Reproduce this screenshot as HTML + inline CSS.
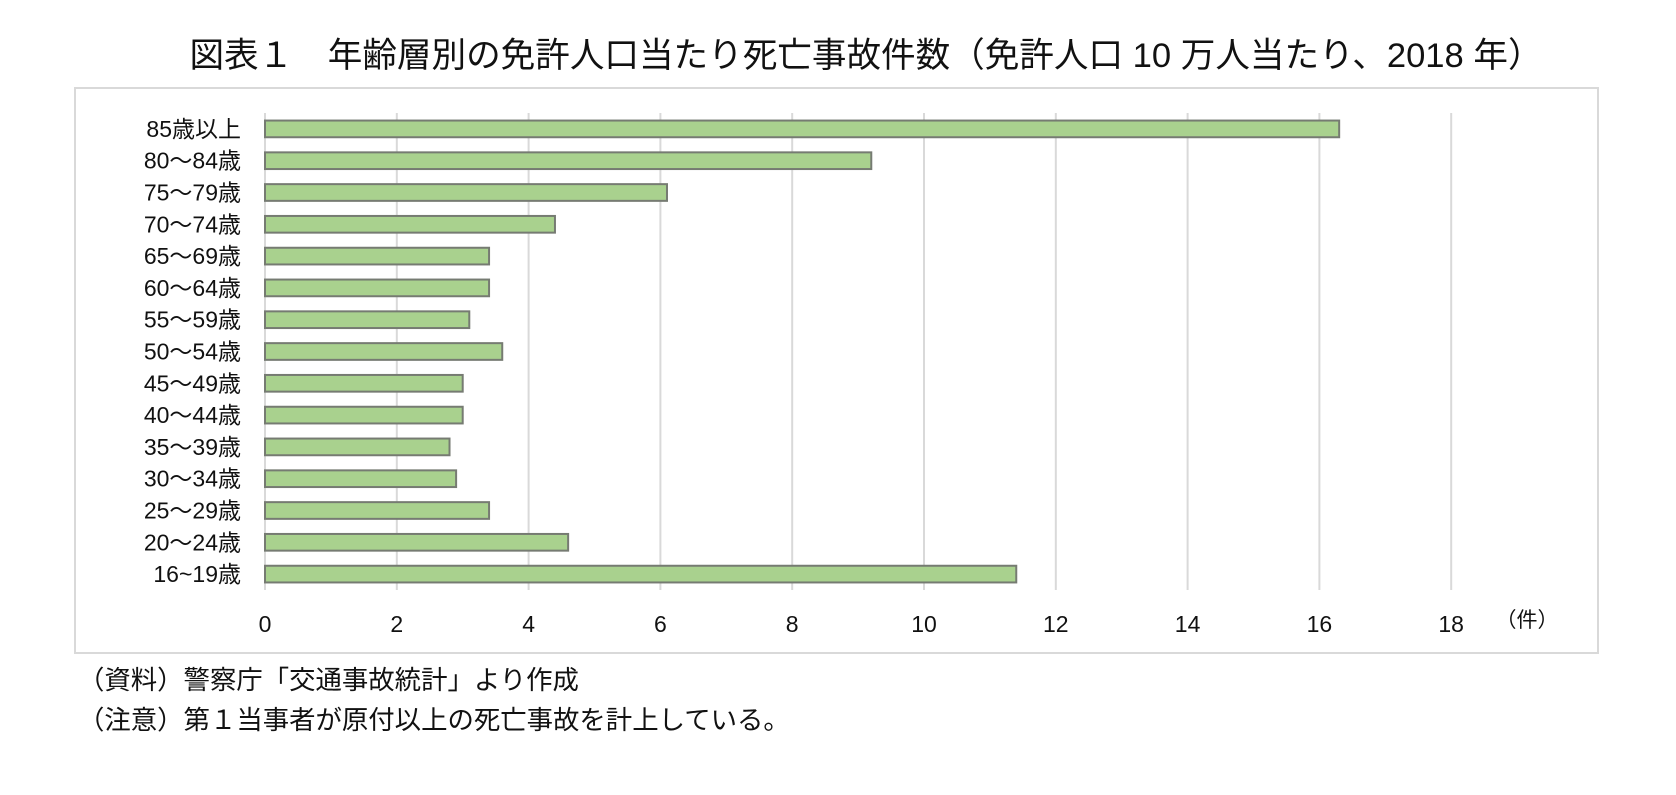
<!DOCTYPE html>
<html><head><meta charset="utf-8">
<style>
html,body{margin:0;padding:0;background:#fff;}
body{width:1676px;height:790px;overflow:hidden;font-family:"Liberation Sans","Noto Sans CJK JP",sans-serif;}
</style></head>
<body>
<svg id="chart" width="1676" height="790" xmlns="http://www.w3.org/2000/svg" style="font-family:'Liberation Sans','Noto Sans CJK JP',sans-serif">
<text x="866" y="67" text-anchor="middle" font-size="34.6" fill="#111">図表１　年齢層別の免許人口当たり死亡事故件数（免許人口 10 万人当たり、2018 年）</text>
<rect x="75" y="88" width="1523" height="565" fill="#fff" stroke="#d9d9d9" stroke-width="2"/>
<g id="grid"></g>
<g id="bars"></g>
<g id="ylabels"></g>
<g id="xlabels"></g>
<text x="1527" y="627" text-anchor="middle" font-size="21" fill="#111">（件）</text>
<text x="78" y="689" font-size="26.4" fill="#111">（資料）警察庁「交通事故統計」より作成</text>
<text x="78" y="729" font-size="26.4" fill="#111">（注意）第１当事者が原付以上の死亡事故を計上している。</text>
</svg>
<script>
const categories = ["85歳以上","80～84歳","75～79歳","70～74歳","65～69歳","60～64歳","55～59歳","50～54歳","45～49歳","40～44歳","35～39歳","30～34歳","25～29歳","20～24歳","16~19歳"];
const values = [16.3,9.2,6.1,4.4,3.4,3.4,3.1,3.6,3.0,3.0,2.8,2.9,3.4,4.6,11.4];
const xTicks = [0,2,4,6,8,10,12,14,16,18];

const NS="http://www.w3.org/2000/svg";
const plotX0=265, unitPx=65.9, plotTop=113, bandPx=31.8;
function xs(v){return plotX0+v*unitPx;}
function yb(i){return plotTop+i*bandPx;}
function mk(tag,attrs,parent){const e=document.createElementNS(NS,tag);for(const k in attrs)e.setAttribute(k,attrs[k]);parent.appendChild(e);return e;}
const gridG=document.getElementById('grid'), barsG=document.getElementById('bars'), ylG=document.getElementById('ylabels'), xlG=document.getElementById('xlabels');
const plotBottom=yb(categories.length);
xTicks.forEach(t=>{
  const l=mk('line',{x1:xs(t),x2:xs(t),y1:plotTop,y2:plotBottom,stroke:'#d9d9d9','stroke-width':2},gridG);
  
  
  const tx=mk('text',{x:xs(t),y:632,'text-anchor':'middle','font-size':23,fill:'#111'},xlG);
  tx.textContent=t;
  
  
});
categories.forEach((c,i)=>{
  const bh=16.7, y=yb(i)+(bandPx-bh)/2;
  const r=mk('rect',{x:xs(0),y:y,width:xs(values[i])-xs(0),height:bh,fill:'#a9d18e',stroke:'#767b72','stroke-width':2},barsG);
  
  
  const t=mk('text',{x:241,y:yb(i)+bandPx/2+8,'text-anchor':'end','font-size':23,fill:'#111'},ylG);
  t.textContent=c;
  
  
});
</script>
</body></html>
